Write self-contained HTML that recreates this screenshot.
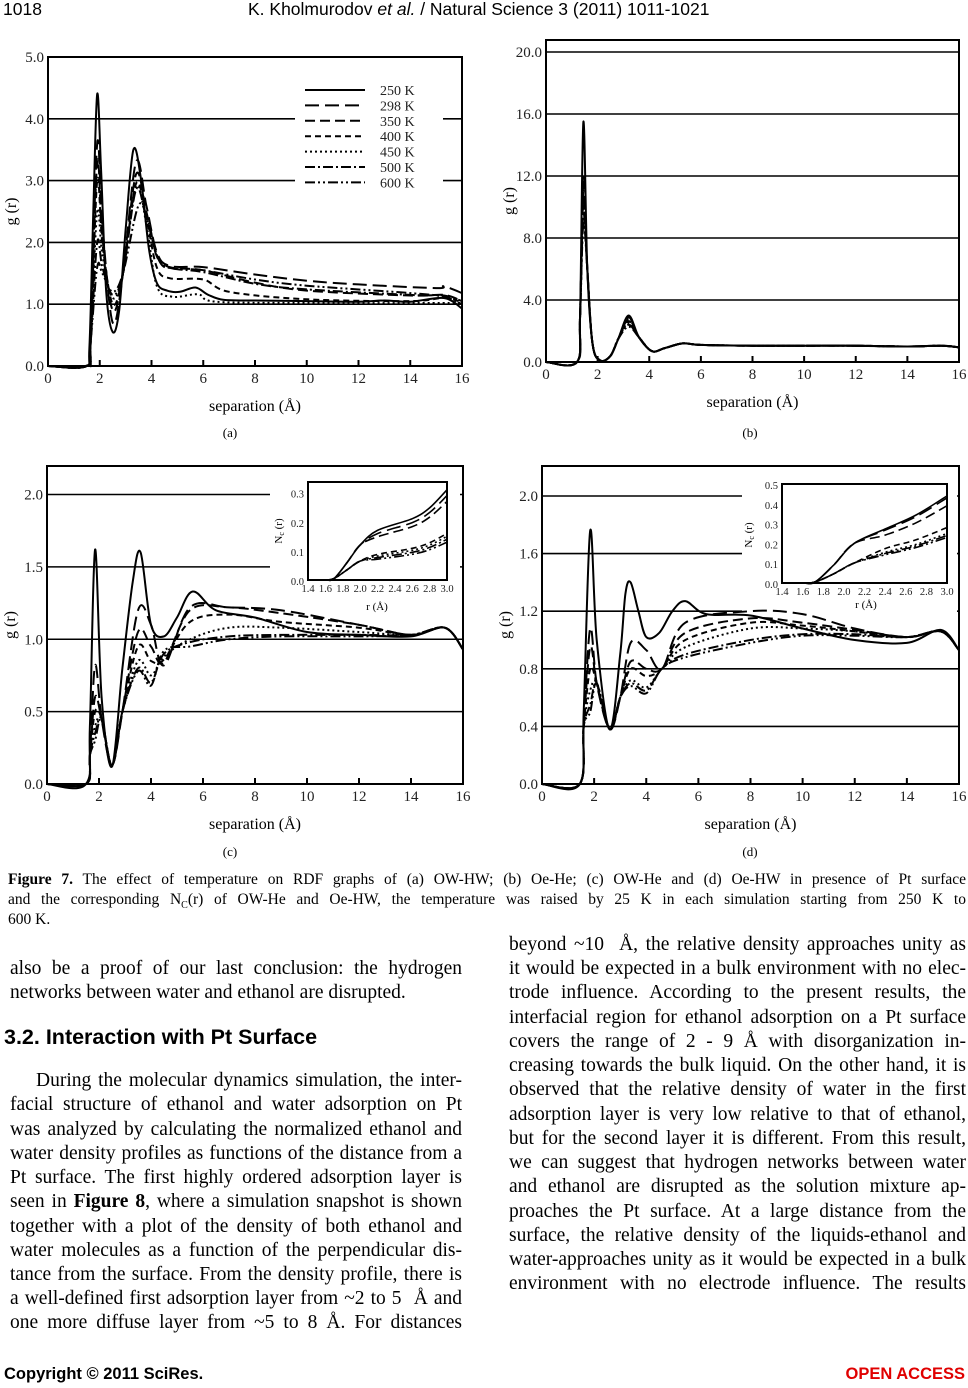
<!DOCTYPE html>
<html><head><meta charset="utf-8">
<style>
body{margin:0;width:968px;height:1388px;background:#fff;position:relative;overflow:hidden;font-family:"Liberation Serif",serif;color:#000}
.a{position:absolute;white-space:nowrap}
.hd{font-family:"Liberation Sans",sans-serif;font-size:17.5px}
.ln{position:absolute;font-size:19.5px;line-height:22px;text-align:justify;text-align-last:justify;white-space:nowrap;overflow:visible}
.cap{position:absolute;left:8px;width:958px;font-size:15.5px;line-height:18px;text-align:justify;text-align-last:justify;white-space:nowrap}
svg text{font-family:"Liberation Serif",serif}
</style></head><body>
<div class="a hd" style="left:3px;top:-1px">1018</div>
<div class="a hd" style="left:248px;top:-1px">K. Kholmurodov <i>et al.</i> / Natural Science 3 (2011) 1011-1021</div>
<svg id="s" width="968" height="860" style="position:absolute;left:0;top:0"></svg>

<div class="cap" style="top:871px"><b>Figure 7.</b> The effect of temperature on RDF graphs of (a) OW-HW; (b) Oe-He; (c) OW-He and (d) Oe-HW in presence of Pt surface</div>
<div class="cap" style="top:891px">and the corresponding N<sub style="font-size:10px">C</sub>(r) of OW-He and Oe-HW, the temperature was raised by 25 K in each simulation starting from 250 K to</div>
<div class="cap" style="top:911px;text-align-last:left">600 K.</div>

<div id="L"></div>
<div class="a" style="left:4px;top:1025px;font-family:'Liberation Sans',sans-serif;font-weight:bold;font-size:21.5px">3.2. Interaction with Pt Surface</div>
<div class="a" style="left:4px;top:1365px;font-family:'Liberation Sans',sans-serif;font-weight:bold;font-size:16.5px">Copyright © 2011 SciRes.</div>
<div class="a" style="right:3px;top:1365px;font-family:'Liberation Sans',sans-serif;font-weight:bold;font-size:16.5px;color:#e00000">OPEN ACCESS</div>

<script>
var left=[
[958,"also be a proof of our last conclusion: the hydrogen",1],
[982,"networks between water and ethanol are disrupted.",0],
[1070,"During the molecular dynamics simulation, the inter-",1,26],
[1094,"facial structure of ethanol and water adsorption on Pt",1],
[1119,"was analyzed by calculating the normalized ethanol and",1],
[1143,"water density profiles as functions of the distance from a",1],
[1167,"Pt surface. The first highly ordered adsorption layer is",1],
[1191,"seen in <b>Figure 8</b>, where a simulation snapshot is shown",1],
[1216,"together with a plot of the density of both ethanol and",1],
[1240,"water molecules as a function of the perpendicular dis-",1],
[1264,"tance from the surface. From the density profile, there is",1],
[1288,"a well-defined first adsorption layer from ~2 to 5 &nbsp;Å and",1],
[1312,"one more diffuse layer from ~5 to 8 Å. For distances",1]];
var right=[
[934,"beyond ~10 &nbsp;Å, the relative density approaches unity as",1],
[958,"it would be expected in a bulk environment with no elec-",1],
[982,"trode influence. According to the present results, the",1],
[1007,"interfacial region for ethanol adsorption on a Pt surface",1],
[1031,"covers the range of 2 - 9 Å with disorganization in-",1],
[1055,"creasing towards the bulk liquid. On the other hand, it is",1],
[1079,"observed that the relative density of water in the first",1],
[1104,"adsorption layer is very low relative to that of ethanol,",1],
[1128,"but for the second layer it is different. From this result,",1],
[1152,"we can suggest that hydrogen networks between water",1],
[1176,"and ethanol are disrupted as the solution mixture ap-",1],
[1201,"proaches the Pt surface. At a large distance from the",1],
[1225,"surface, the relative density of the liquids-ethanol and",1],
[1249,"water-approaches unity as it would be expected in a bulk",1],
[1273,"environment with no electrode influence. The results",1]];
var h="";
left.forEach(function(l){var ind=l[3]||0;h+='<div class="ln" style="left:'+(10+ind)+'px;width:'+(452-ind)+'px;top:'+l[0]+'px;'+(l[2]?'':'text-align-last:left;')+'">'+l[1]+'</div>';});
right.forEach(function(l){h+='<div class="ln" style="left:509px;width:457px;top:'+l[0]+'px">'+l[1]+'</div>';});
document.getElementById('L').innerHTML=h;

var S="";
function cr(pts){
  var d="M"+pts[0][0].toFixed(1)+","+pts[0][1].toFixed(1);
  for(var i=0;i<pts.length-1;i++){
    var p0=pts[i-1]||pts[i],p1=pts[i],p2=pts[i+1],p3=pts[i+2]||p2;
    var c1=[p1[0]+(p2[0]-p0[0])/6,p1[1]+(p2[1]-p0[1])/6];
    var c2=[p2[0]-(p3[0]-p1[0])/6,p2[1]-(p3[1]-p1[1])/6];
    d+="C"+c1[0].toFixed(1)+","+c1[1].toFixed(1)+" "+c2[0].toFixed(1)+","+c2[1].toFixed(1)+" "+p2[0].toFixed(1)+","+p2[1].toFixed(1);
  }
  return d;
}
var dashes=["","14,6","10,5","6,4","2,3","10,3,2,3","10,3,2,3,2,3"];
function panel(o){
  var X=function(v){return o.x0+(v-o.xmin)/(o.xmax-o.xmin)*(o.x1-o.x0)};
  var Y=function(v){return o.y0-(v-o.ymin)/(o.ymax-o.ymin)*(o.y0-o.y1v)};
  o.yt.forEach(function(t){var y=Y(t);
    if(t!=o.ymin && !o.nogrid) S+='<line x1="'+o.x0+'" x2="'+o.x1+'" y1="'+y+'" y2="'+y+'" stroke="#000" stroke-width="1.6"/>';
    S+='<text x="'+(o.x0-4)+'" y="'+(y+5)+'" font-size="'+(o.fs||15)+'" text-anchor="end" fill="#222">'+t.toFixed(o.dec)+'</text>';});
  o.xt.forEach(function(t){var x=X(t);
    if(o.tick) S+='<line x1="'+x+'" x2="'+x+'" y1="'+o.y0+'" y2="'+(o.y0-6)+'" stroke="#000" stroke-width="2"/>';
    S+='<text x="'+x+'" y="'+(o.y0+(o.lab?17:12))+'" font-size="'+(o.fs||15)+'" text-anchor="middle" fill="#222">'+(o.xdec?t.toFixed(1):t)+'</text>';});
  if(o.legendbox) S+='<rect x="'+o.legendbox[0]+'" y="'+o.legendbox[1]+'" width="'+o.legendbox[2]+'" height="'+o.legendbox[3]+'" fill="#fff"/>';
  o.series.forEach(function(s,i){
    var p=s.map(function(q){return [X(q[0]),Y(q[1])]});
    S+='<path d="'+cr(p)+'" fill="none" stroke="#000" stroke-width="'+(o.sw||2)+'" stroke-dasharray="'+dashes[i]+'"/>';});
  S+='<rect x="'+o.x0+'" y="'+o.top+'" width="'+(o.x1-o.x0)+'" height="'+(o.y0-o.top)+'" fill="none" stroke="#000" stroke-width="2"/>';
  if(o.lab){
    S+='<text x="'+((o.x0+o.x1)/2)+'" y="'+(o.y0+45)+'" font-size="16" text-anchor="middle">separation (Å)</text>';
    S+='<text transform="translate('+(o.x0-32)+','+((o.y0+o.top)/2)+') rotate(-90)" font-size="16" text-anchor="middle">g (r)</text>';
  }
}
var xt=[0,2,4,6,8,10,12,14,16];
panel({x0:48,x1:462,xmin:0,xmax:16,y0:366,y1v:57,top:57,ymin:0,ymax:5,yt:[0,1,2,3,4,5],dec:1,xt:xt,tick:1,lab:1,
legendbox:[295,80,148,110],
series:[
[[0,0],[1.45,0],[1.6,0.3],[1.75,2.5],[1.9,4.4],[2.05,3.2],[2.25,1.2],[2.5,0.55],[2.75,0.9],[3.0,2.2],[3.3,3.5],[3.6,3.0],[3.9,1.9],[4.2,1.35],[4.6,1.22],[5.1,1.2],[5.7,1.27],[6.2,1.15],[6.8,1.07],[8,1.06],[10,1.05],[12,1.04],[13,1.06],[14,1.04],[15.3,1.1],[16,0.93]],
[[0,0],[1.5,0],[1.65,0.4],[1.9,3.6],[2.1,2.3],[2.5,0.7],[2.9,1.5],[3.4,3.3],[3.8,2.6],[4.2,1.85],[4.7,1.62],[6,1.6],[8,1.48],[10,1.38],[12,1.32],[15,1.26],[15.3,1.29],[16,1.18]],
[[0,0],[1.5,0],[1.65,0.4],[1.9,3.3],[2.1,2.1],[2.5,0.9],[2.9,1.5],[3.4,3.1],[3.8,2.5],[4.2,1.8],[4.7,1.6],[6,1.55],[8,1.35],[10,1.22],[14,1.14],[15.3,1.15],[16,1.05]],
[[0,0],[1.5,0],[1.65,0.4],[1.9,3.0],[2.1,2.0],[2.5,1.0],[2.9,1.5],[3.4,2.95],[3.8,2.4],[4.2,1.6],[4.7,1.42],[6,1.4],[7,1.2],[10,1.08],[14,1.05],[15.3,1.1],[16,1.03]],
[[0,0],[1.5,0],[1.65,0.4],[1.9,2.5],[2.1,1.8],[2.5,1.1],[2.9,1.5],[3.4,2.9],[3.8,2.3],[4.2,1.3],[4.8,1.12],[5.8,1.16],[6.5,1.04],[10,1.02],[16,1.02]],
[[0,0],[1.5,0],[1.65,0.4],[1.9,2.0],[2.1,1.6],[2.5,1.15],[2.9,1.5],[3.4,2.85],[3.8,2.4],[4.3,1.7],[4.8,1.58],[6,1.52],[8,1.33],[10,1.24],[14,1.15],[15.3,1.14],[16,1.05]],
[[0,0],[1.5,0],[1.65,0.4],[1.9,1.6],[2.1,1.5],[2.5,1.2],[2.9,1.5],[3.5,2.6],[3.9,2.3],[4.4,1.65],[6,1.55],[8,1.4],[10,1.3],[14,1.18],[15.3,1.12],[16,1.0]]
]});
var lg=["250 K","298 K","350 K","400 K","450 K","500 K","600 K"];
lg.forEach(function(t,i){var y=90+i*15.4;
 S+='<line x1="305" x2="365" y1="'+y+'" y2="'+y+'" stroke="#000" stroke-width="2" stroke-dasharray="'+dashes[i]+'"/>';
 S+='<text x="380" y="'+(y+5)+'" font-size="14" fill="#222">'+t+'</text>';});
S+='<text x="230" y="437" font-size="13" text-anchor="middle">(a)</text>';
var bs=[];[15.5,12,11,10.5,10,9.5,9].forEach(function(pk,i){var p2=3.0-i*0.12;
 bs.push([[0,0],[1.2,0],[1.32,3],[1.45,pk],[1.6,6],[1.8,1.2],[2.1,0.1],[2.5,0.4],[2.8,1.5],[3.2,p2],[3.6,1.6],[4.1,0.7],[4.6,0.9],[5.3,1.2],[6,1.1],[8,1.05],[10,1.05],[12,1.05],[14,1.0],[15.3,1.05],[16,0.95]]);});
panel({x0:546,x1:959,xmin:0,xmax:16,y0:362,y1v:52,top:40,ymin:0,ymax:20,yt:[0,4,8,12,16,20],dec:1,xt:xt,tick:1,lab:1,series:bs});
S+='<text x="750" y="437" font-size="13" text-anchor="middle">(b)</text>';
var cpk=[1.62,0.82,0.6,0.5,0.4,0.35,0.3];
var csec=[1.6,1.2,1.05,0.95,0.85,0.8,0.78];
var ctail=[[1.33,1.2,1.15,1.05],[1.22,1.22,1.2,1.1],[1.2,1.22,1.18,1.1],[1.12,1.17,1.12,1.08],[1.0,1.08,1.08,1.05],[0.98,1.02,1.03,1.03],[0.95,1.0,1.02,1.02]];
var cs=[];cpk.forEach(function(pk,i){var t=ctail[i];
 if(i==0) cs.push([[0,0],[1.5,0],[1.65,0.4],[1.85,1.62],[2.1,0.6],[2.5,0.12],[2.9,0.8],[3.3,1.4],[3.6,1.6],[4,1.1],[4.5,1.02],[5,1.15],[5.6,1.33],[6.5,1.2],[8,1.15],[10,1.05],[12,1.03],[14,1.02],[15.3,1.08],[16,0.93]]);
 else cs.push([[0,0],[1.5,0],[1.65,0.2],[1.85,pk],[2.1,0.45],[2.5,0.13],[2.9,0.5],[3.5,csec[i]],[4,csec[i]-0.1],[4.5,0.8+i*0.02],[5.5,t[0]],[7,t[1]],[9,t[2]],[12,t[3]],[14,1.03],[15.3,1.08],[16,0.93]]);});
panel({x0:47,x1:463,xmin:0,xmax:16,y0:784,y1v:494.5,top:466,ymin:0,ymax:2,yt:[0,0.5,1,1.5,2],dec:1,xt:xt,tick:1,lab:1,series:cs,legendbox:[270,480,190,135]});
var ic=[];[0.31,0.29,0.27,0.16,0.15,0.14,0.13].forEach(function(e,i){var k=i<3?1:0.5;
 ic.push([[1.4,0],[1.6,0],[1.7,0.005],[1.85,0.05*k+0.01],[2.0,0.11*k+0.01],[2.2,e*0.55],[2.6,e*0.68],[2.8,e*0.8],[3.0,e]]);});
panel({x0:308,x1:447,xmin:1.4,xmax:3.0,y0:580,y1v:484,top:482,ymin:0,ymax:0.33,yt:[0,0.1,0.2,0.3],dec:1,nogrid:1,xt:[1.4,1.6,1.8,2.0,2.2,2.4,2.6,2.8,3.0],xdec:1,fs:10.5,sw:1.6,series:ic});
S+='<text x="377" y="610" font-size="11" text-anchor="middle">r (Å)</text>';
S+='<text transform="translate(282,531) rotate(-90)" font-size="11" text-anchor="middle">N<tspan font-size="8" dy="2">c</tspan><tspan dy="-2"> (r)</tspan></text>';
S+='<text x="230" y="856" font-size="13" text-anchor="middle">(c)</text>';
var dpk=[1.76,1.08,0.95,0.8,0.65,0.55,0.5];
var dsec=[1.4,0.98,0.85,0.8,0.72,0.7,0.68];
var dtail=[[1.27,1.17,1.08,1.0],[1.12,1.2,1.18,1.08],[1.05,1.15,1.12,1.07],[1.0,1.12,1.1,1.06],[0.95,1.08,1.08,1.06],[0.9,1.0,1.04,1.04],[0.88,0.98,1.03,1.03]];
var ds=[];dpk.forEach(function(pk,i){var t=dtail[i];
 if(i==0) ds.push([[0,0],[1.45,0],[1.6,0.5],[1.85,1.76],[2.1,1.0],[2.6,0.38],[3.0,0.9],[3.2,1.32],[3.4,1.4],[3.7,1.2],[4,1.02],[4.5,1.05],[5,1.2],[5.5,1.27],[6.3,1.18],[8,1.17],[10,1.08],[12,1.0],[14,0.98],[15.3,1.07],[16,0.93]]);
 else ds.push([[0,0],[1.45,0],[1.6,0.4],[1.85,pk],[2.1,0.7],[2.6,0.38],[3.0,0.6],[3.4,dsec[i]],[4,dsec[i]-0.05],[4.6,0.8],[5.5,t[0]],[8,t[1]],[10,t[2]],[12,t[3]],[14,1.02],[15.3,1.06],[16,0.93]]);});
panel({x0:542,x1:959,xmin:0,xmax:16,y0:784,y1v:496,top:466,ymin:0,ymax:2,yt:[0,0.4,0.8,1.2,1.6,2.0],dec:1,xt:xt,tick:1,lab:1,series:ds,legendbox:[742,478,215,135]});
var id=[];[0.44,0.43,0.39,0.28,0.25,0.24,0.23].forEach(function(e,i){var k=i<3?1:0.45;
 id.push([[1.4,0],[1.6,0],[1.72,0.005],[1.9,0.08*k+0.01],[2.1,0.18*k+0.02],[2.4,e*0.62],[2.7,e*0.78],[3.0,e]]);});
panel({x0:782,x1:947,xmin:1.4,xmax:3.0,y0:583,y1v:484,top:484,ymin:0,ymax:0.5,yt:[0,0.1,0.2,0.3,0.4,0.5],dec:1,nogrid:1,xt:[1.4,1.6,1.8,2.0,2.2,2.4,2.6,2.8,3.0],xdec:1,fs:10.5,sw:1.6,series:id});
S+='<text x="866" y="608" font-size="11" text-anchor="middle">r (Å)</text>';
S+='<text transform="translate(752,535) rotate(-90)" font-size="11" text-anchor="middle">N<tspan font-size="8" dy="2">c</tspan><tspan dy="-2"> (r)</tspan></text>';
S+='<text x="750" y="856" font-size="13" text-anchor="middle">(d)</text>';
document.getElementById('s').innerHTML=S;
</script>
</body></html>
